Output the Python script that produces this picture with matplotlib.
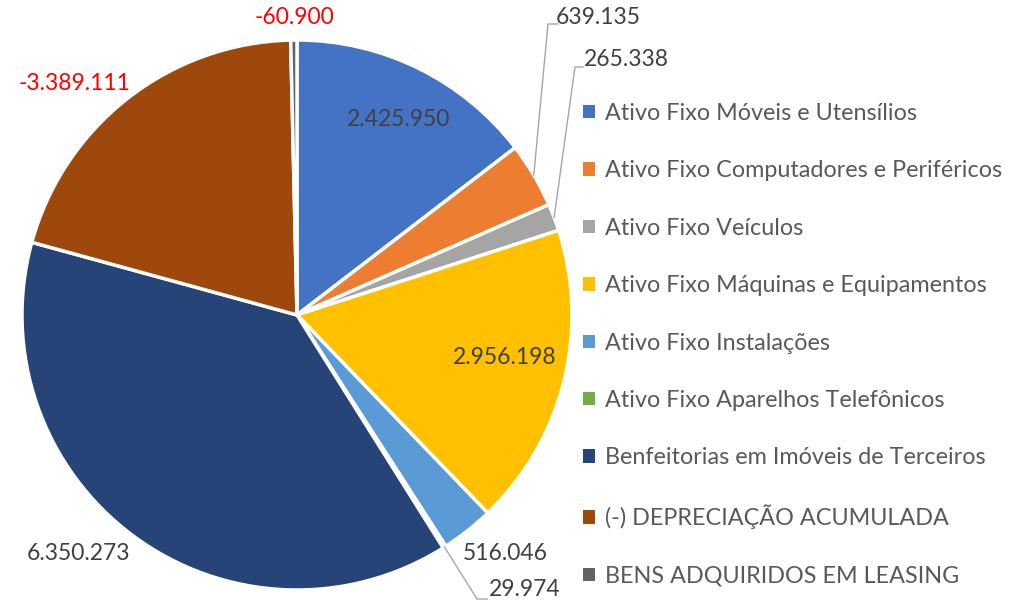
import matplotlib.pyplot as plt
import numpy as np

plt.rcParams['font.family'] = ['Lato', 'DejaVu Sans']

categorias = ['Ativo Fixo Móveis e Utensílios', 'Ativo Fixo Computadores e Periféricos',
              'Ativo Fixo Veículos', 'Ativo Fixo Máquinas e Equipamentos',
              'Ativo Fixo Instalações', 'Ativo Fixo Aparelhos Telefônicos',
              'Benfeitorias em Imóveis de Terceiros', '(-) DEPRECIAÇÃO ACUMULADA',
              'BENS ADQUIRIDOS EM LEASING']
valores = [2425950, 639135, 265338, 2956198, 516046, 29974, 6350273, 3389111, 60900]
rotulos = ['2.425.950', '639.135', '265.338', '2.956.198', '516.046', '29.974',
           '6.350.273', '-3.389.111', '-60.900']
cores = ['#4472C4', '#ED7D31', '#A5A5A5', '#FFC000', '#5B9BD5', '#70AD47',
         '#264478', '#9E480E', '#636363']

W, H = 1023, 604
fig = plt.figure(figsize=(W / 100, H / 100), dpi=100)
ax = fig.add_axes([0, 0, 1, 1])

cx, cy, r = 297, H - 315, 275
wedges, _ = ax.pie(valores, colors=cores, startangle=90, counterclock=False,
                   center=(cx, cy), radius=r,
                   wedgeprops=dict(edgecolor='white', linewidth=2.5))
ax.set_xlim(0, W)
ax.set_ylim(0, H)
ax.set_aspect('equal')
ax.axis('off')

# posições dos rótulos (pixels, y a partir do topo)
pos = [(399, 119), (598, 18), (626, 60), (505, 358), (505, 553),
       (525, 590), (78, 553), (75, 84), (295, 18)]
# linhas de chamada: ponto de quebra e fim
chamadas = {1: [(548, 24), (558, 24)], 2: [(575, 67), (583, 67)], 5: [(477, 599), (487, 599)]}

for i, (w, txt) in enumerate(zip(wedges, rotulos)):
    cor = '#FF0000' if txt.startswith('-') else '#404040'
    x, y = pos[i]
    ax.text(x, H - y, txt, ha='center', va='center', fontsize=16.5, color=cor)
    if i in chamadas:
        ang = np.deg2rad((w.theta1 + w.theta2) / 2)
        pts = [(cx + r * np.cos(ang), cy + r * np.sin(ang))]
        pts += [(px, H - py) for px, py in chamadas[i]]
        xs, ys = zip(*pts)
        ax.plot(xs, ys, color='#A6A6A6', linewidth=1)

leg = ax.legend(wedges, categorias, loc='upper left', bbox_to_anchor=(583 / W, 1 - 103 / H),
                frameon=False, fontsize=16.8, handlelength=0.5, handleheight=0.5,
                handletextpad=0.45, labelspacing=1.56, labelcolor='#595959',
                borderpad=0, borderaxespad=0)
for h in leg.legend_handles:
    h.set_edgecolor('none')

fig.savefig('out.png', dpi=100)
